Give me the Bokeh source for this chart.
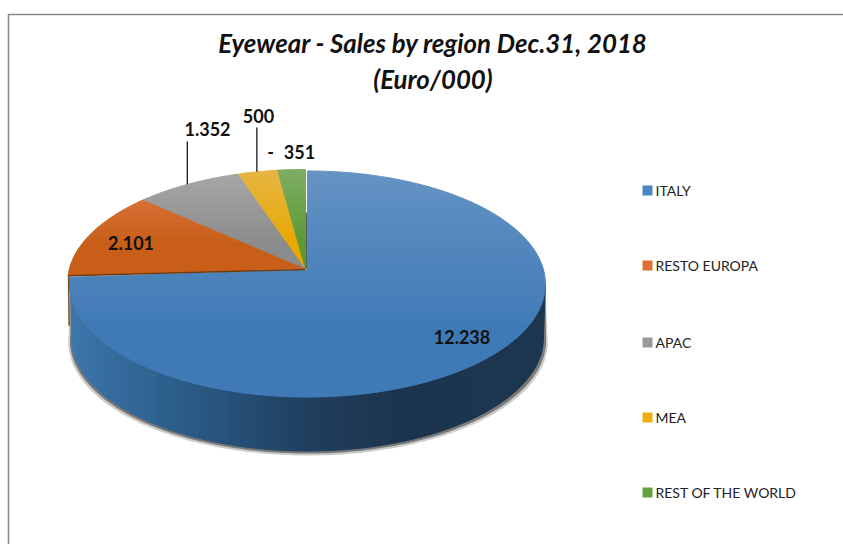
import numpy as np
from bokeh.plotting import figure
from bokeh.models import Range1d
from bokeh.core.properties import value
from bokeh.embed import file_html
from bokeh.resources import INLINE

categories = ["ITALY", "RESTO EUROPA", "APAC", "MEA", "REST OF THE WORLD"]
sales = [12238, 2101, 1352, 500, 351]
top_colors = ["#6593c4", "#de7c48", "#a8a8a8", "#e6b545", "#7fad62"]
low_colors = ["#3f7ab6", "#c85e18", "#8b8b8b", "#e8a800", "#589a35"]
legend_colors = ["#4a86c3", "#e0702f", "#999999", "#efae12", "#62a040"]
legend_y = [190, 265, 342, 417, 492]
title_lines = ["Eyewear - Sales by region Dec.31, 2018", "(Euro/000)"]
FONT = "Lato"

# page-pixel coordinate system
W, H = 843, 544
p = figure(width=W, height=H, x_range=Range1d(0, W), y_range=Range1d(H, 0),
           output_backend="svg", toolbar_location=None, min_border=0,
           background_fill_color="white", border_fill_color="white")
p.axis.visible = False
p.grid.visible = False
p.outline_line_color = None

# perspective pie projection
A, B, PERS = 236.0, 111.3, 0.124
YT, YB = 169.0, 395.0
DEPTH = 54.0


def project(theta, cx, cy):
    u, v = np.sin(theta), -np.cos(theta)
    d = 1 - PERS * v
    return cx + A * u / d, cy + B * v / d


def mix(c1, c2, t):
    t = min(1.0, max(0.0, t))
    a = [int(c1[i:i + 2], 16) for i in (1, 3, 5)]
    b = [int(c2[i:i + 2], 16) for i in (1, 3, 5)]
    return "#%02x%02x%02x" % tuple(int(round(x + (y - x) * t)) for x, y in zip(a, b))


def clip(poly, axis, lim, keep_above):
    out = []
    n = len(poly)
    for i in range(n):
        a, b = poly[i], poly[(i + 1) % n]
        ina = a[axis] >= lim if keep_above else a[axis] <= lim
        inb = b[axis] >= lim if keep_above else b[axis] <= lim
        if ina:
            out.append(a)
        if ina != inb:
            t = (lim - a[axis]) / (b[axis] - a[axis])
            out.append((a[0] + (b[0] - a[0]) * t, a[1] + (b[1] - a[1]) * t))
    return out


def bands(poly, axis, edges, colors):
    xs, ys, cs = [], [], []
    for lo, hi, c in zip(edges[:-1], edges[1:], colors):
        q = clip(clip(poly, axis, lo, True), axis, hi, False)
        if len(q) > 2:
            xs.append([pt[0] for pt in q])
            ys.append([pt[1] for pt in q])
            cs.append(c)
    if xs:
        p.patches(xs, ys, fill_color=cs, line_color=cs, line_width=1.0)


vals = np.array(sales, dtype=float)
cum = np.concatenate([[0], np.cumsum(vals)]) / vals.sum() * 2 * np.pi
centers = [(307.0, 269.5)] + [(305.0, 268.0)] * 4

# side wall and its shadow, from the Italy rim
t_side = np.linspace(np.pi * 0.54, cum[1], 160)
rim = [project(t, *centers[0]) for t in t_side]
low = [(307 + (x - 307) * 0.992, y + DEPTH) for x, y in rim]
side = rim + low[::-1]
for dx, dy, grow, alpha in [(0.5, 4.5, 1.016, 0.3), (0.5, 2.5, 1.009, 0.7)]:
    sx = [307 + (x - 307) * grow + dx for x, y in low] + [x for x, y in rim[::-1]]
    sy = [y + dy for x, y in low] + [y for x, y in rim[::-1]]
    p.patch(sx, sy, fill_color="#555555", fill_alpha=alpha, line_color=None)

stops_x = [68, 110, 170, 240, 305, 400, 550]
stops_c = ["#3d78ae", "#356c9e", "#2d5f8b", "#264e75", "#203f60", "#1c344d", "#1d3650"]
ex = np.arange(66, 552, 6.0)
ec = []
for x in ex[:-1]:
    i = min(np.searchsorted(stops_x, x + 3) - 1, len(stops_x) - 2)
    i = max(i, 0)
    ec.append(mix(stops_c[i], stops_c[i + 1], (x + 3 - stops_x[i]) / (stops_x[i + 1] - stops_x[i])))
bands(side, 0, list(ex), ec)

# thin wall showing behind the pulled-apart slices
p.quad(left=[304.5], right=[307.5], top=[212], bottom=[268.5], fill_color="#5c5c5c", line_color=None)

# top faces
edges_y = list(np.arange(YT - 3, YB + 6, 4.0))
for i in range(len(vals)):
    cx, cy = centers[i]
    ts = np.linspace(cum[i], cum[i + 1], max(6, int((cum[i + 1] - cum[i]) * 60)))
    poly = [(cx, cy)] + [project(t, cx, cy) for t in ts]
    scale = 1.4 if i == 0 else 3.0
    cols = [mix(top_colors[i], low_colors[i], (y + 2 - YT) / (YB - YT) * scale) for y in edges_y[:-1]]
    bands(poly, 1, edges_y, cols)

# dark seam under the orange slice and its sliver of side
seam = project(cum[1], *centers[1])
p.line([seam[0], centers[1][0]], [seam[1], centers[1][1] + 1], line_color="#6b3a12", line_width=1.4)
p.line([seam[0] + 0.5, seam[0] + 1], [seam[1], seam[1] + 50], line_color="#7a4a20", line_width=1.5)

# leader lines: from the middle of the slice up to its label
for i, top in [(2, 141), (3, 127)]:
    mx, my = project((cum[i] + cum[i + 1]) / 2, *centers[i])
    p.line([mx - 1, mx - 1], [top, my], line_color="#1a1a1a", line_width=1.3)

# frame
p.line([8.0, 8.0, W], [H, 14.0, 14.0], line_color="#8a8a8a", line_width=1.6)

# title
p.text([432.5, 432.5], [42, 78], text=title_lines, text_align="center", text_baseline="middle",
       text_font=value(FONT), text_font_style="bold italic", text_font_size="25.8px", text_color="#111111")

# data labels
label_text = ["12.238", "2.101", "1.352", "500", "-", "351"]
label_x = [461.5, 130.5, 207, 258, 270, 299]
label_y = [336, 242, 128, 115, 151.5, 151.5]
p.text(label_x, label_y, text=label_text, text_align="center", text_baseline="middle",
       text_font=value(FONT), text_font_style="bold", text_font_size="18px", text_color="#111111")

# legend
p.rect([647] * 5, legend_y, width=10, height=10, fill_color=legend_colors, line_color=None)
p.text([655] * 5, legend_y, text=categories, text_align="left", text_baseline="middle",
       text_font=value(FONT), text_font_size="14px", text_color="#222222")

open("out.html", "w").write(file_html(p, INLINE))
